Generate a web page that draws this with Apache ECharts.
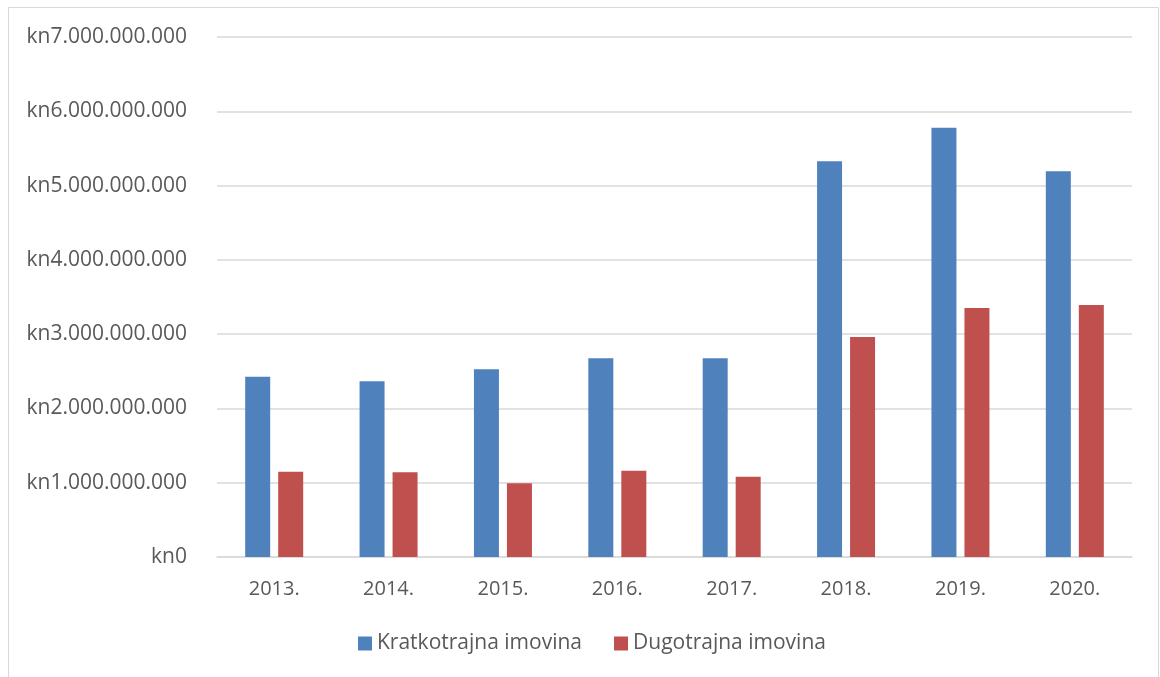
<!DOCTYPE html>
<html>
<head>
<meta charset="utf-8">
<script src="https://cdn.jsdelivr.net/npm/echarts@6/dist/echarts.min.js"></script>
<style>
  html, body { margin: 0; padding: 0; background: #fff; }
  #chart { width: 1160px; height: 677px; }
</style>
</head>
<body>
<div id="chart"></div>
<script>
const years = ['2013.', '2014.', '2015.', '2016.', '2017.', '2018.', '2019.', '2020.'];
const kratkotrajna = [2427000000, 2365000000, 2527000000, 2675000000, 2675000000, 5326000000, 5779000000, 5192000000];
const dugotrajna = [1148000000, 1140000000, 992000000, 1162000000, 1081000000, 2962000000, 3352000000, 3392000000];
const seriesNames = ['Kratkotrajna imovina', 'Dugotrajna imovina'];

const fmtKn = v => 'kn' + String(v).replace(/\B(?=(\d{3})+(?!\d))/g, '.');

const myChart = echarts.init(document.getElementById('chart'));

const option = {
  animation: false,
  textStyle: { fontFamily: 'Open Sans' },
  graphic: [{
    type: 'rect',
    shape: { x: 8.5, y: 7.5, width: 1150, height: 680 },
    style: { fill: 'none', stroke: '#d9d9d9', lineWidth: 1 },
    silent: true
  }],
  grid: { left: 217, right: 28, top: 37, bottom: 120 },
  legend: {
    bottom: 18,
    left: 353,
    itemWidth: 14,
    itemHeight: 14,
    itemGap: 32,
    icon: 'rect',
    textStyle: { color: '#595959', fontSize: 21 },
    data: seriesNames
  },
  xAxis: {
    type: 'category',
    data: years,
    axisLine: { lineStyle: { color: '#d9d9d9', width: 1.5 } },
    axisTick: { show: false },
    axisLabel: { color: '#595959', fontSize: 20, margin: 22 }
  },
  yAxis: {
    type: 'value',
    min: 0,
    max: 7000000000,
    interval: 1000000000,
    axisLine: { show: false },
    axisTick: { show: false },
    splitLine: { lineStyle: { color: '#d9d9d9', width: 1.5 } },
    axisLabel: { color: '#595959', fontSize: 21, margin: 30, formatter: fmtKn }
  },
  series: [
    {
      name: seriesNames[0],
      type: 'bar',
      data: kratkotrajna,
      barWidth: 25,
      barGap: '32%',
      itemStyle: { color: '#4f81bd' }
    },
    {
      name: seriesNames[1],
      type: 'bar',
      data: dugotrajna,
      barWidth: 25,
      itemStyle: { color: '#c0504d' }
    }
  ]
};

myChart.setOption(option);
window.addEventListener('resize', () => myChart.resize());
</script>
</body>
</html>
